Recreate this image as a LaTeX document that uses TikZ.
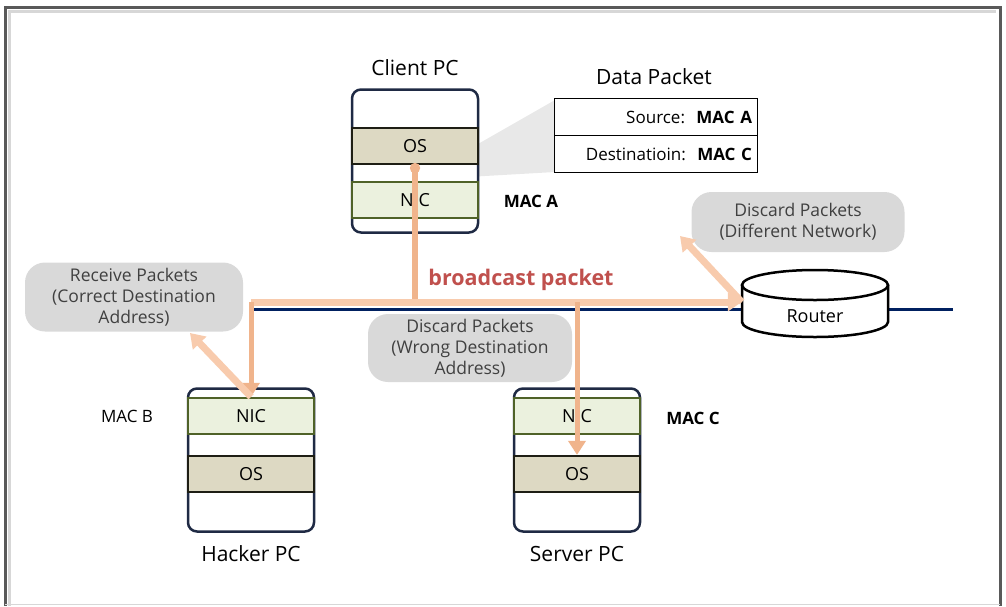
\documentclass[tikz,border=0pt]{standalone}
\usepackage{fontspec}
\setmainfont{Open Sans}
\usetikzlibrary{arrows.meta}

\definecolor{framegray}{RGB}{89,89,89}
\definecolor{shadegray}{RGB}{215,215,215}
\definecolor{busblue}{RGB}{0,32,96}
\definecolor{boxline}{RGB}{31,42,68}
\definecolor{nicfill}{RGB}{235,241,222}
\definecolor{nicline}{RGB}{79,98,40}
\definecolor{osfill}{RGB}{221,217,195}
\definecolor{osline}{RGB}{30,30,20}
\definecolor{bubfill}{RGB}{217,217,217}
\definecolor{bubtext}{RGB}{64,64,64}
\definecolor{peach}{RGB}{248,203,173}
\definecolor{peachdark}{RGB}{240,180,140}
\definecolor{castred}{RGB}{192,80,77}
\definecolor{wedgegray}{RGB}{232,232,232}

\begin{document}
\begin{tikzpicture}[x=1pt,y=-1pt]
\tikzset{pcbox/.style = {draw=boxline,line width=2.5pt,rounded corners=9pt,fill=white,minimum width=126pt,minimum height=143pt}}
\tikzset{band/.style = {line width=2.2pt,minimum width=126pt,minimum height=36pt,inner sep=0pt,font=\fontsize{18}{21}\selectfont}}
\tikzset{nicband/.style = {band,draw=nicline,fill=nicfill}}
\tikzset{osband/.style = {band,draw=osline,fill=osfill}}
\tikzset{pclabel/.style = {font=\fontsize{21}{24}\selectfont}}
\tikzset{maclabel/.style = {font=\fontsize{17}{20}\selectfont}}
\tikzset{bubble/.style = {fill=bubfill,rounded corners=20pt,align=center,text=bubtext,inner sep=0pt,font=\fontsize{17.5}{21}\selectfont}}
\tikzset{pktrow/.style = {draw,line width=1pt,minimum width=203pt,minimum height=37pt,inner sep=0pt,text width=192pt,align=right,font=\fontsize{17}{20}\selectfont}}
\tikzset{flow/.style = {draw=peach,line width=7pt,-{Triangle[length=14pt,width=18pt]}}}
\tikzset{drop/.style = {draw=peachdark,line width=5pt,-{Triangle[length=14pt,width=17pt]}}}

\useasboundingbox (0,0) rectangle (1006,606);

% frame
\draw[shadegray,line width=3pt] (9,606) -- (9,11) -- (996,11);
\draw[framegray,line width=3pt] (5,606) -- (5,7) -- (1000,7) -- (1000,606);
\draw[shadegray,line width=1pt] (5,604) -- (1000,604);

% data packet and its callout
\fill[wedgegray] (555,100) -- (555,172) -- (415,180) -- cycle;
\node[pclabel] (pkttitle) at (654,77) {Data Packet};
\node[pktrow] (pktsrc) at (656,117) {Source:~~\textbf{MAC A}};
\node[pktrow] (pktdst) at (656,154) {Destinatioin:~~\textbf{MAC C}};

% client pc
\node[pcbox] (client) at (415,161) {};
\node[osband] (clientos) at (415,146) {OS};
\node[nicband] (clientnic) at (415,200) {NIC};
\node[pclabel] (clientlbl) at (415,68) {Client PC};
\node[maclabel,font=\fontsize{17}{20}\selectfont\bfseries] (maca) at (531,201) {MAC A};

% hacker pc
\node[pcbox] (hacker) at (251,460) {};
\node[nicband] (hackernic) at (251,416) {NIC};
\node[osband] (hackeros) at (251,474) {OS};
\node[pclabel] (hackerlbl) at (251,554) {Hacker PC};
\node[maclabel] (macb) at (127,416) {MAC B};

% server pc
\node[pcbox] (server) at (577,460) {};
\node[nicband] (servernic) at (577,416) {NIC};
\node[osband] (serveros) at (577,474) {OS};
\node[pclabel] (serverlbl) at (577,554) {Server PC};
\node[maclabel,font=\fontsize{17}{20}\selectfont\bfseries] (macc) at (693,418) {MAC C};

% router and bus
\coordinate (busleft) at (253,309);
\coordinate (busright) at (953,309);
\draw[busblue,line width=3pt] (busleft) -- (busright);
\filldraw[fill=white,draw=black,line width=2.5pt] (742,285) -- (742,322) arc[start angle=180,end angle=0,x radius=73,y radius=15] -- (888,285);
\filldraw[fill=white,draw=black,line width=2.5pt] (815,285) ellipse[x radius=73,y radius=15];
\node[minimum width=146pt,minimum height=52pt,font=\fontsize{18}{21}\selectfont] (router) at (815,316) {Router};

% bubbles
\node[bubble,minimum width=218pt,minimum height=69pt] (recv) at (134,297) {Receive Packets\\(Correct Destination\\Address)};
\node[bubble,minimum width=204pt,minimum height=68pt] (wrong) at (470,348) {Discard Packets\\(Wrong Destination\\Address)};
\node[bubble,minimum width=213pt,minimum height=60pt] (diffnet) at (798,222) {Discard Packets\\(Different Network)};

\node[text=castred,font=\fontsize{21.5}{25}\selectfont\bfseries] (cast) at (521,280) {broadcast packet};

% packet flow
\coordinate (tee) at (415,302);
\coordinate (leftend) at (251,302);
\coordinate (rightend) at (577,302);
\draw[draw=peachdark,line width=6pt,{Circle[length=10pt]}-] (415,163) -- (tee);
\draw[flow] (leftend) -- (router.west |- tee);
\draw[drop] (leftend) -- (hackernic.north);
\draw[drop] (rightend) -- (serveros.north);
\draw[flow] (hackernic.north) -- (190,333);
\draw[flow] (router.west |- tee) -- (680,236);

\end{tikzpicture}
\end{document}
